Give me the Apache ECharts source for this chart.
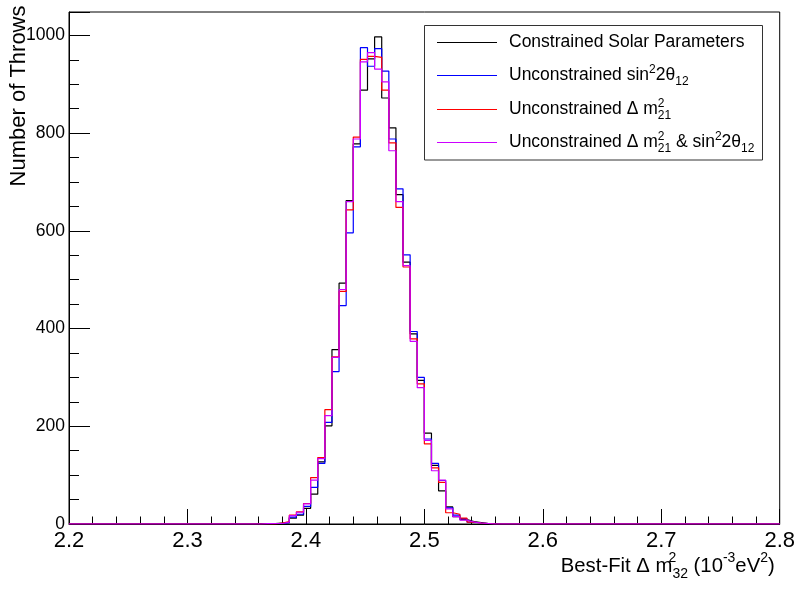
<!DOCTYPE html>
<html><head><meta charset="utf-8">
<script src="https://cdn.jsdelivr.net/npm/echarts@6/dist/echarts.min.js"></script>
<style>html,body{margin:0;padding:0;background:#fff}#c{width:798px;height:591px}</style>
</head><body><div id="c"></div>
<script>
// ---- data ----
const binLow = 2.2;      // lower edge of first bin (10^-3 eV^2)
const binWidth = 0.006;  // 100 bins from 2.2 to 2.8

const seriesNames = [
  'Constrained Solar Parameters',
  'Unconstrained sin²2θ₁₂',
  'Unconstrained Δ m²₂₁',
  'Unconstrained Δ m²₂₁ & sin²2θ₁₂'
];

const constrained = [
  0,0,0,0,0,0,0,0,0,0,
  0,0,0,0,0,0,0,0,0,0,
  0,0,0,0,0,0,1,0,1,2,
  3,12,18,32,61,127,201,357,493,662,
  778,888,952,997,872,811,674,536,389,294,
  186,120,68,35,15,9,5,3,1,1,
  0,0,0,0,0,0,0,0,0,0,
  0,0,0,0,0,0,0,0,0,0,
  0,0,0,0,0,0,0,0,0,0,
  0,0,0,0,0,0,0,0,0,0
];
const unconstrainedSin = [
  0,0,0,0,0,0,0,0,0,0,
  0,0,0,0,0,0,0,0,0,0,
  0,0,0,0,0,0,0,0,1,1,
  3,14,20,36,75,124,208,312,447,596,
  772,975,937,973,927,788,686,551,394,300,
  174,124,89,33,18,11,4,2,1,0,
  0,0,0,0,0,0,0,0,0,0,
  0,0,0,0,0,0,0,0,0,0,
  0,0,0,0,0,0,0,0,0,0,
  0,0,0,0,0,0,0,0,0,0
];
const unconstrainedDm = [
  0,0,0,0,0,0,0,0,0,0,
  0,0,0,0,0,0,0,0,0,0,
  0,0,0,0,0,0,0,0,0,2,
  5,18,25,42,95,136,234,342,476,643,
  792,951,957,955,888,780,648,526,379,287,
  164,115,85,23,20,12,4,2,1,0,
  0,0,0,0,0,0,0,0,0,0,
  0,0,0,0,0,0,0,0,0,0,
  0,0,0,0,0,0,0,0,0,0,
  0,0,0,0,0,0,0,0,0,0
];
const unconstrainedBoth = [
  0,0,0,0,0,0,0,0,0,0,
  0,0,0,0,0,0,0,0,0,0,
  0,0,0,0,0,0,0,1,1,1,
  4,17,24,41,90,134,222,341,480,660,
  788,946,965,931,905,764,660,529,374,279,
  171,109,90,31,15,8,4,2,1,0,
  0,0,0,0,0,0,0,0,0,0,
  0,0,0,0,0,0,0,0,0,0,
  0,0,0,0,0,0,0,0,0,0,
  0,0,0,0,0,0,0,0,0,0
];

const xTickValues = [2.2, 2.3, 2.4, 2.5, 2.6, 2.7, 2.8];
const xTickLabels = ['2.2', '2.3', '2.4', '2.5', '2.6', '2.7', '2.8'];
const yTickValues = [0, 200, 400, 600, 800, 1000];
const yTickLabels = ['0', '200', '400', '600', '800', '1000'];

// ---- rendering ----
const FONT = '"Liberation Sans", Arial, Helvetica, sans-serif';
const colors = ['#000000', '#0000ff', '#ff0000', '#cc00ff'];
const allCounts = [constrained, unconstrainedSin, unconstrainedDm, unconstrainedBoth];

function toSteps(counts) {
  const pts = counts.map((c, i) => [+(binLow + i * binWidth).toFixed(4), c]);
  pts.push([+(binLow + counts.length * binWidth).toFixed(4), counts[counts.length - 1]]);
  return pts;
}

const legendRich = {
  sup:  { fontFamily: FONT, fontSize: 12, lineHeight: 18, verticalAlign: 'top', color: '#000' },
  supz: { fontFamily: FONT, fontSize: 12, lineHeight: 18, verticalAlign: 'top', color: '#000', width: 0, align: 'left' },
  sub:  { fontFamily: FONT, fontSize: 12, lineHeight: 14, verticalAlign: 'bottom', color: '#000', align: 'left' }
};
const legendMarkup = {
  'Constrained Solar Parameters': 'Constrained Solar Parameters',
  'Unconstrained sin²2θ₁₂': 'Unconstrained sin{sup|2}2θ{sub|12}',
  'Unconstrained Δ m²₂₁': 'Unconstrained Δ m{supz|2}{sub|21}',
  'Unconstrained Δ m²₂₁ & sin²2θ₁₂': 'Unconstrained Δ m{supz|2}{sub|21} & sin{sup|2}2θ{sub|12}'
};
const rowTops = [30.5, 63.5, 97.5, 130.5];
const legendLeft = 437, legendSample = 60;

const chart = echarts.init(document.getElementById('c'), null, { renderer: 'canvas', width: 798, height: 591 });

const sampleLines = rowTops.map((t, i) => ({
  type: 'line', z: 20, silent: true,
  shape: { x1: legendLeft, y1: t + 12, x2: legendLeft + legendSample, y2: t + 12 },
  style: { stroke: colors[i], lineWidth: 1 }
}));

const option = {
  animation: false,
  backgroundColor: '#ffffff',
  grid: { left: 69, right: 17, top: 12, bottom: 67, show: true, borderColor: '#000', borderWidth: 1, backgroundColor: 'transparent' },
  xAxis: {
    type: 'value', min: 2.2, max: 2.8, interval: 0.1,
    name: 'Best-Fit Δ m{supz|2}{sub|32} (10{sup|-3}eV{sup|2})',
    nameLocation: 'end', nameGap: -5, nameMoveOverlap: false,
    nameTextStyle: {
      fontFamily: FONT, fontSize: 20.3, color: '#000', align: 'right', verticalAlign: 'top',
      lineHeight: 30, padding: [27, 0, 0, 0],
      rich: {
        sup:  { fontFamily: FONT, fontSize: 14, lineHeight: 22.6, verticalAlign: 'top', color: '#000' },
        supz: { fontFamily: FONT, fontSize: 14, lineHeight: 22.6, verticalAlign: 'top', color: '#000', width: 0, align: 'left' },
        sub:  { fontFamily: FONT, fontSize: 14, lineHeight: 17.6, verticalAlign: 'bottom', color: '#000', align: 'left' }
      }
    },
    axisLine: { show: true, onZero: false, lineStyle: { color: '#000', width: 1 } },
    axisTick: { show: true, inside: true, length: 15, lineStyle: { color: '#000', width: 1 } },
    minorTick: { show: true, splitNumber: 5, length: 7.5, lineStyle: { color: '#000', width: 1 } },
    axisLabel: {
      fontFamily: FONT, fontSize: 22, color: '#000', margin: 6,
      formatter: v => { const k = xTickValues.findIndex(t => Math.abs(t - v) < 1e-6); return k >= 0 ? xTickLabels[k] : ''; }
    },
    splitLine: { show: false }, minorSplitLine: { show: false }
  },
  yAxis: [
    {
      type: 'value', min: 0, max: 1048, interval: 200, position: 'left',
      name: 'Number of Throws', nameLocation: 'end', nameRotate: 90, nameGap: 6.5, nameMoveOverlap: false,
      nameTextStyle: { fontFamily: FONT, fontSize: 22, color: '#000', align: 'right', verticalAlign: 'bottom', padding: [0, 0, 39, 0] },
      axisLine: { show: true, onZero: false, lineStyle: { color: '#000', width: 1 } },
      axisTick: { show: true, inside: true, length: 21, lineStyle: { color: '#000', width: 1 } },
      axisLabel: {
        fontFamily: FONT, fontSize: 17.5, color: '#000', margin: 4,
        formatter: v => { const k = yTickValues.findIndex(t => Math.abs(t - v) < 1e-6); return k >= 0 ? yTickLabels[k] : ''; }
      },
      splitLine: { show: false }
    },
    {
      type: 'value', min: 0, max: 1048, interval: 50, position: 'left', offset: 0,
      axisLine: { show: false },
      axisTick: { show: true, inside: true, length: 10, lineStyle: { color: '#000', width: 1 } },
      axisLabel: { show: false },
      splitLine: { show: false }
    }
  ],
  legend: seriesNames.map((n, i) => ({
    data: [n],
    left: legendLeft, top: rowTops[i], padding: 0, orient: 'horizontal',
    itemWidth: legendSample, itemHeight: 14, selectedMode: false, z: 10,
    itemStyle: { opacity: 0 },
    lineStyle: { opacity: 0 },
    formatter: name => legendMarkup[name],
    textStyle: { fontFamily: FONT, fontSize: 17.5, color: '#000', lineHeight: 24, padding: [0, 0, 0, 6], rich: legendRich }
  })),
  graphic: [{
    type: 'rect', z: 3, silent: true,
    shape: { x: 424.5, y: 25.5, width: 338, height: 134.5 },
    style: { fill: '#ffffff', stroke: '#333333', lineWidth: 1 }
  }].concat(sampleLines),
  series: seriesNames.map((n, i) => ({
    name: n, type: 'line', step: 'end', data: toSteps(allCounts[i]),
    symbol: 'none', showSymbol: false, silent: true, clip: true,
    lineStyle: { color: colors[i], width: 1.2 }, itemStyle: { color: colors[i] },
    z: 2 + i, yAxisIndex: 0
  }))
};
chart.setOption(option);
</script>
</body></html>
